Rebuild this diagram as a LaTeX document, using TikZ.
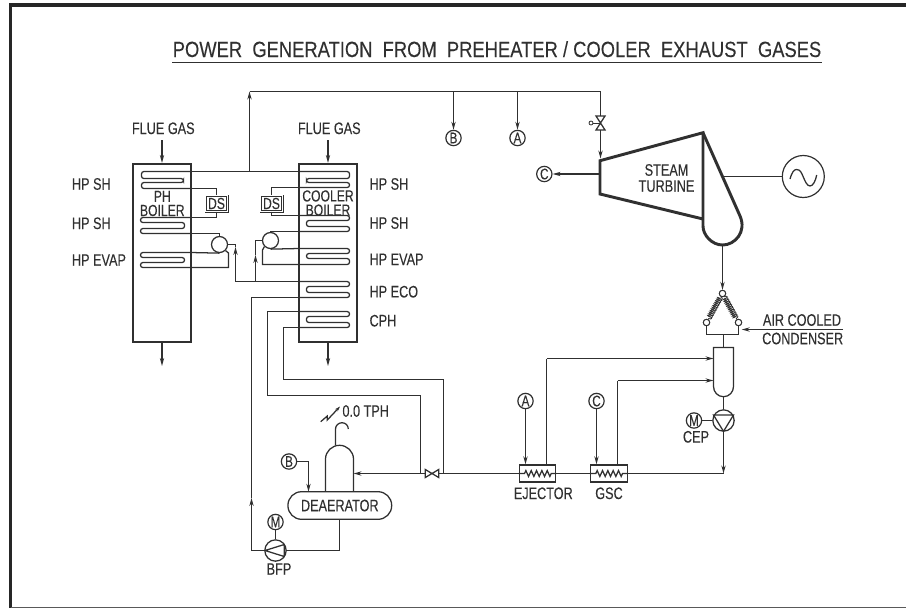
\documentclass[tikz,border=0pt]{standalone}
\usepackage{fontspec}
\setmainfont{Liberation Sans}[FakeStretch=0.76,FakeBold=0.15]
\newfontfamily\titlefont{Liberation Sans}[FakeStretch=0.835,FakeBold=0.15]
\usetikzlibrary{arrows.meta,decorations.pathmorphing}
\definecolor{ink}{HTML}{303030}
\tikzset{
  pipe/.style={draw=ink,line width=0.95pt},
  arr/.style={pipe,-{Stealth[length=6pt,width=3.2pt]}},
  lbl/.style={inner sep=0pt,text=ink,font=\fontsize{12.5}{10}\selectfont},
  lblwide/.style={lbl,align=center,font=\fontsize{12.5}{12}\selectfont},
  boiler/.style={draw=ink,line width=1.6pt,inner sep=0pt,minimum width=43.5pt,minimum height=133.5pt},
  dsbox/.style={draw=ink,line width=0.6pt,double,double distance=0.8pt,inner sep=0pt,fill=white,
     minimum width=16pt,minimum height=11.5pt,text=ink,font=\fontsize{12}{11}\selectfont},
  drum/.style={circle,draw=ink,line width=0.95pt,inner sep=0pt,minimum size=12pt},
  tag/.style={circle,draw=ink,line width=0.9pt,inner sep=0pt,minimum size=11.5pt,text=ink,font=\fontsize{11.5}{10}\selectfont},
  pump/.style={circle,draw=ink,line width=0.95pt,inner sep=0pt,minimum size=16pt},
  hx/.style={draw=ink,line width=0.95pt,inner sep=0pt,minimum width=27.5pt,minimum height=12.8pt},
  hxcoil/.style={pipe,decorate,decoration={zigzag,segment length=4pt,amplitude=2.2pt,pre length=4.5pt,post length=2.5pt}},
  spring/.style={draw=ink,line width=0.6pt,decorate,decoration={coil,aspect=0.3,segment length=1.4pt,amplitude=1.9pt}},
  joint/.style={circle,draw=ink,line width=0.7pt,inner sep=0pt,minimum size=4.8pt,fill=white},
  heavy/.style={draw=ink,line width=2.2pt,line join=miter},
}
\newcommand{\coilrun}[8]{%
  \coordinate (#1-a) at (#2,#5);
  \coordinate (#1-b) at (#2,#8);
  \draw[pipe,rounded corners=1.8pt] (#1-a) -- (#3,#5) -- (#3,#6) -- (#4,#6) -- (#4,#7) -- (#3,#7) -- (#3,#8) -- (#1-b);}
\begin{document}
\begin{tikzpicture}[x=0.75pt,y=-0.75pt]
\useasboundingbox (0,0) rectangle (906,608);
% frame
\draw[black!85,line width=2.6pt] (906,5) -- (10.5,5) -- (10.5,608);
\draw[black!65,line width=1pt] (10.5,607.5) -- (906,607.5);
% title
\node[inner sep=0pt,anchor=base,text=ink,font=\titlefont\fontsize{16.5}{18}\selectfont] (title) at (497,57)
  {POWER\ \ GENERATION\ \ FROM\ \ PREHEATER / COOLER\ \ EXHAUST\ \ GASES};
\coordinate (ulA) at (172,62.5); \coordinate (ulB) at (822,62.5);
\draw[pipe] (ulA) -- (ulB);

% boilers
\node[boiler] (ph) at (162,253) {};
\node[boiler] (cb) at (328,253) {};
\node[lblwide,font=\fontsize{12}{10.6}\selectfont] (phname) at (162.3,203.5) {PH\\BOILER};
\node[lblwide,font=\fontsize{12}{10.6}\selectfont] (cbname) at (328,203) {COOLER\\BOILER};
\node[lbl] (flue1) at (163.3,128.3) {FLUE GAS};
\node[lbl] (flue2) at (329.3,128.3) {FLUE GAS};
\coordinate (f1t) at (162,140); \coordinate (f2t) at (328,140);
\coordinate (f1b) at (162,366); \coordinate (f2b) at (328,366);
\draw[arr] (f1t) -- (ph.north);
\draw[arr] (f2t) -- (cb.north);
\draw[arr] (ph.south) -- (f1b);
\draw[arr] (cb.south) -- (f2b);

% coils
\coilrun{p1}{191}{141.5}{183.5}{171.5}{178.5}{182.5}{188.5}
\coilrun{p2}{191}{140.5}{184.5}{217.5}{222.5}{228.5}{233.5}
\coilrun{p3}{191}{140.5}{184.5}{252.5}{257.5}{262.5}{267.5}
\coilrun{c1}{299}{349.5}{306.5}{171.5}{178.5}{182.5}{187.5}
\coilrun{c2}{299}{349.5}{306.5}{215.5}{220.5}{226.5}{231.5}
\coilrun{c3}{299}{349.5}{306.5}{248.5}{253.5}{258.5}{264.5}
\coilrun{c4}{299}{349.5}{306.5}{281.5}{286.5}{292.5}{297.5}
\coilrun{c5}{299}{349.5}{306.5}{311.5}{316.5}{322.5}{327.5}

% boiler labels
\node[lbl,anchor=west] (l1) at (71.7,184) {HP SH};
\node[lbl,anchor=west] (l2) at (71.7,223.3) {HP SH};
\node[lbl,anchor=west] (l3) at (71.7,260) {HP EVAP};
\node[lbl,anchor=west] (r1) at (369.3,184) {HP SH};
\node[lbl,anchor=west] (r2) at (369.3,223) {HP SH};
\node[lbl,anchor=west] (r3) at (369.3,259.3) {HP EVAP};
\node[lbl,anchor=west] (r4) at (369.3,291.7) {HP ECO};
\node[lbl,anchor=west] (r5) at (369.3,320.7) {CPH};

% desuperheaters
\node[dsbox] (ds1) at (216.5,203.5) {DS};
\node[dsbox] (ds2) at (271.5,203.5) {DS};
\draw[pipe] (p1-b) -| (ds1.north);
\draw[pipe] (ds1.south) |- (p2-a);
\draw[pipe] (c1-b) -| (ds2.north);
\draw[pipe] (ds2.south) |- (c2-a);

% drums
\node[drum] (d1) at (219.5,244.5) {};
\node[drum] (d2) at (270.5,240.5) {};
\draw[pipe] (p2-b) -| (d1.north);
\draw[pipe] (c2-b) -| (d2.north);
\draw[pipe] (p3-a) -- (d1.south);
\draw[pipe] (c3-a) -- (d2.south);
\coordinate (p3k) at (228.5,253);
\draw[pipe] (p3-b) -| (p3k) -- (d1.-45);
\coordinate (c3k) at (262.5,250);
\draw[pipe] (c3-b) -| (c3k) -- (d2.-135);

% economiser feed to drums
\coordinate (fdL) at (235.5,281.5);
\coordinate (fdLtip) at (235.5,247);
\coordinate (fdLtop) at (235.5,244.5);
\coordinate (fdJ) at (255.5,281.5);
\coordinate (fdRtip) at (255.5,255);
\coordinate (fdRtop) at (255.5,240.5);
\draw[pipe] (c4-a) -- (fdL);
\draw[arr] (fdL) -- (fdLtip);
\draw[pipe] (fdLtip) -- (fdLtop) -- (d1.east);
\draw[arr] (fdJ) -- (fdRtip);
\draw[pipe] (fdRtip) -- (fdRtop) -- (d2.west);

% main steam
\coordinate (riserB) at (249.5,171.5);
\coordinate (riserT) at (249.5,91.5);
\coordinate (mainE) at (600.5,91.5);
\draw[pipe] (p1-a) -- (c1-a);
\draw[arr] (riserB) -- (riserT);
\draw[pipe] (riserT) -- (mainE);
\node[tag] (tB) at (453.5,138) {B};
\node[tag] (tA) at (517.5,138) {A};
\coordinate (mB) at (453.5,91.5); \coordinate (mA) at (517.5,91.5);
\draw[arr] (mB) -- (tB.north);
\draw[arr] (mA) -- (tA.north);

% turbine
\coordinate (tuIn) at (600.5,158.5);
\coordinate (va) at (600.5,116);
\coordinate (vb) at (600.5,130);
\draw[pipe] (mainE) -- (va);
\draw[pipe,fill=white] (596,116) -- (605,116) -- (596,130) -- (605,130) -- cycle;
\draw[arr] (vb) -- (tuIn);
\coordinate (vs) at (600.5,123);
\node[circle,draw=ink,line width=0.6pt,inner sep=0pt,minimum size=3pt] (vh) at (591,123) {};
\draw[pipe,line width=0.6pt] (vh) -- (vs);
\draw[heavy] (703,219) -- (600,194) -- (600,160.7) -- (703,132.7) -- (703,226);
\draw[heavy] (703,132.7) -- (740,216) .. controls +(7,16) and +(12,0) .. (722.7,245) .. controls +(-11,0) and +(0,9) .. (703,226);
\node[lblwide,font=\fontsize{12.5}{12}\selectfont] (stname) at (666.5,178) {STEAM\\TURBINE};
\node[tag] (tC) at (544.3,174) {C};
\coordinate (tuOut) at (600,174);
\draw[arr] (tuOut) -- (tC.east);
\node[circle,draw=ink,line width=0.9pt,inner sep=0pt,minimum size=31.5pt] (gen) at (803.3,176.5) {};
\coordinate (shaft) at (724,176.5);
\draw[pipe] (shaft) -- (gen.west);
\draw[pipe] (790,179) .. controls (792,172) and (794,169.5) .. (796.5,169.5)
   .. controls (800.5,169.5) and (801.5,173) .. (803.3,177)
   .. controls (805,181) and (807,186) .. (810,186)
   .. controls (813,186) and (815.5,181) .. (816.7,175);

% condenser
\coordinate (exh) at (722.5,245);
\node[joint] (jA) at (722.5,293.5) {};
\node[joint] (jL) at (706.5,322.5) {};
\node[joint] (jR) at (738.5,322.5) {};
\draw[arr] (exh) -- (jA.north);
\draw[spring] (jA) -- (jL);
\draw[spring] (jA) -- (jR);
\node[joint] (jA2) at (jA) {};
\node[joint] (jL2) at (jL) {};
\node[joint] (jR2) at (jR) {};
\coordinate (bar) at (723.5,334.5);
\draw[pipe] (jL.south) |- (bar) -| (jR.south);
\node[lbl] (air) at (802,320) {AIR COOLED};
\node[lbl] (con) at (802.7,338.5) {CONDENSER};
\coordinate (airE) at (843,329.5);
\coordinate (airW) at (741.7,329.5);
\draw[arr] (airE) -- (airW);

% hotwell tank
\coordinate (tankT) at (723.5,347.5);
\coordinate (tankB) at (723.5,396.7);
\draw[pipe] (bar) -- (tankT);
\draw[pipe] (713.5,347.5) -- (733.5,347.5) -- (733.5,386.4) .. controls +(0,5.7) and +(5.7,0) .. (tankB)
   .. controls +(-5.7,0) and +(0,5.7) .. (713.5,386.4) -- cycle;
\node[pump] (cep) at (723.5,420.5) {};
\draw[pipe] (tankB) -- (cep.north);
\draw[pipe] (713.5,415) -- (733.5,415) -- (723.5,431.4) -- cycle;
\node[tag] (mc) at (694,420.5) {M};
\draw[pipe] (mc.east) -- (cep.west);
\node[lbl] (ceplbl) at (696,436.8) {CEP};

% condensate line
\coordinate (cj) at (723.5,473.5);
\node[hx] (ej) at (537.5,473.5) {};
\node[hx] (gs) at (608.8,473.5) {};
\node[lbl] (ejlbl) at (543.3,493.3) {EJECTOR};
\node[lbl] (gslbl) at (609,493.3) {GSC};
\draw[arr] (cep.south) -- (cj);
\draw[pipe] (cj) -- (gs.east);
\draw[hxcoil] (gs.west) -- (gs.east);
\draw[pipe] (gs.west) -- (ej.east);
\draw[hxcoil] (ej.west) -- (ej.east);
\node[tag] (tA2) at (525.5,401) {A};
\node[tag] (tC2) at (596.5,401) {C};
\draw[arr] (tA2.south) -- (tA2 |- ej.north);
\draw[arr] (tC2.south) -- (tC2 |- gs.north);
\coordinate (ejT) at (546.5,465);
\coordinate (ejC) at (546.5,358.5);
\coordinate (tkA) at (713.5,358.5);
\coordinate (gsT) at (617.5,465);
\coordinate (gsC) at (617.5,380.5);
\coordinate (tkB) at (713.5,380.5);
\draw[pipe] (ejT) -- (ejC);
\draw[arr] (ejC) -- (tkA);
\draw[pipe] (gsT) -- (gsC);
\draw[arr] (gsC) -- (tkB);

% feed valve, deaerator
\coordinate (vl) at (425.3,473.5);
\coordinate (vr) at (438.7,473.5);
\coordinate (jE) at (443.5,473.5);
\coordinate (jW) at (420.5,473.5);
\draw[pipe] (ej.west) -- (vr);
\draw[pipe] (425.3,469.5) -- (438.7,477.5) -- (438.7,469.5) -- (425.3,477.5) -- cycle;
\coordinate (domeE) at (353.5,473.5);
\draw[arr] (vl) -- (domeE);
\coordinate (cphA) at (443.5,379.5);
\coordinate (cphB) at (283.5,379.5);
\coordinate (cphC) at (420.5,395.5);
\coordinate (cphD) at (267.5,395.5);
\coordinate (c5at) at (267.5,311.5);
\coordinate (c5bt) at (283.5,327.5);
\draw[pipe] (jE) -- (cphA) -- (cphB) -- (c5bt) -- (c5-b);
\draw[pipe] (jW) -- (cphC) -- (cphD) -- (c5at) -- (c5-a);

\node[draw=ink,line width=0.95pt,rounded corners=10.2pt,inner sep=0pt,minimum width=77.8pt,minimum height=20.7pt,text=ink,font=\fontsize{12.5}{10}\selectfont] (dea) at (339.8,505.5) {DEAERATOR};
\draw[pipe] (325.5,491.7) -- (325.5,459) .. controls +(0,-7.6) and +(-7.6,0) .. (339.5,445.3)
   .. controls +(7.6,0) and +(0,-7.6) .. (353.5,459) -- (353.5,491.7);
\coordinate (vent) at (335.5,445.3);
\draw[pipe] (vent) -- (335.5,429) .. controls +(0,-3.5) and +(-3.5,0) .. (342,422.7) .. controls +(3.5,0) and +(0,-3.5) .. (348.3,429);
\coordinate (zg1) at (320.7,421.7);
\coordinate (zg2) at (327.3,416);
\coordinate (zg3) at (327.3,420);
\coordinate (zg4) at (340,406.5);
\draw[arr,-{Stealth[length=4pt,width=2.5pt]}] (zg1) -- (zg2) -- (zg3) -- (zg4);
\node[lbl] (tph) at (365.7,411) {0.0 TPH};
\node[tag] (tB2) at (289,461.5) {B};
\coordinate (bk) at (308.5,461.5);
\coordinate (bd) at (308.5,491.7);
\draw[pipe] (tB2.east) -- (bk);
\draw[arr] (bk) -- (bd);

% BFP
\node[pump] (bfp) at (275.5,550.5) {};
\draw[pipe] (265,550.5) -- (284.3,544.5) -- (284.3,556.5) -- cycle;
\node[tag] (mb) at (275.5,522) {M};
\draw[pipe] (mb.south) -- (bfp.north);
\node[lbl] (bfplbl) at (279,569) {BFP};
\coordinate (deaD) at (339.5,519.5);
\coordinate (deaP) at (339.5,550.5);
\draw[pipe] (deaD) -- (deaP) -- (bfp.east);
\coordinate (hpC) at (251.5,550.5);
\coordinate (hpT) at (251.5,498);
\coordinate (hpU) at (251.5,297.5);
\draw[pipe] (bfp.west) -- (hpC);
\draw[arr] (hpC) -- (hpT);
\draw[pipe] (hpT) -- (hpU) -- (c4-b);
\end{tikzpicture}
\end{document}
